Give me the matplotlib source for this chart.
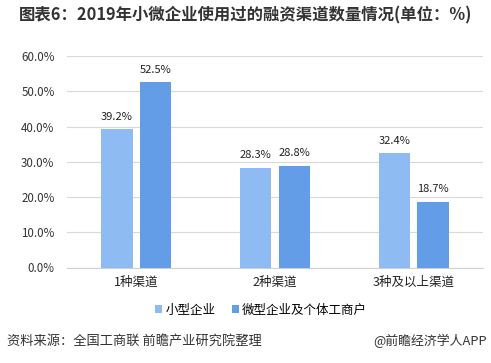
import matplotlib
matplotlib.use("Agg")
import matplotlib.pyplot as plt
import numpy as np

plt.rcParams['font.family'] = ['Noto Sans CJK SC', 'DejaVu Sans']

categories = ['1种渠道', '2种渠道', '3种及以上渠道']
series_names = ['小型企业', '微型企业及个体工商户']
small = [39.2, 28.3, 32.4]
micro = [52.5, 28.8, 18.7]
yticks = [0, 10, 20, 30, 40, 50, 60]

c1 = '#8FBBF3'
c2 = '#639DE8'

fig = plt.figure(figsize=(4.91, 3.63), dpi=100)
ax = fig.add_axes([67/491, 1-267.5/363, (483-67)/491, (267.5-56)/363])

x = np.arange(len(categories))
w = 0.225
off = 0.14
b1 = ax.bar(x - off, small, w, color=c1, label=series_names[0], zorder=3)
b2 = ax.bar(x + off, micro, w, color=c2, label=series_names[1], zorder=3)
for bars, vals in ((b1, small), (b2, micro)):
    for r, v in zip(bars, vals):
        ax.text(r.get_x() + r.get_width()/2, v + 2.2, f'{v:.1f}%', ha='center', va='bottom',
                fontsize=8, color='#222222')

ax.set_xlim(-0.5, 2.5)
ax.set_ylim(0, 60)
ax.set_yticks(yticks)
ax.set_yticklabels([f'{t:.1f}%' for t in yticks], fontsize=8.3, color='#333333')
ax.set_xticks(x)
ax.set_xticklabels(categories, fontsize=9, color='#222222')
ax.tick_params(axis='both', length=0)
ax.tick_params(axis='y', pad=9)
ax.tick_params(axis='x', pad=6)
ax.grid(axis='y', color='#d9d9d9', linewidth=0.8, zorder=0)
for s in ['top', 'right', 'left']:
    ax.spines[s].set_visible(False)
ax.spines['bottom'].set_color('#d0d0d0')
ax.spines['bottom'].set_linewidth(0.8)

leg = fig.legend(handles=[b1, b2], labels=series_names, loc='center', bbox_to_anchor=(261/491, 1-310/363),
                 ncol=2, frameon=False, fontsize=9, handlelength=0.55, handleheight=0.55,
                 handletextpad=0.3, columnspacing=1.3)

fig.text(246/491, 1-15/363, '图表6：2019年小微企业使用过的融资渠道数量情况(单位：%)', ha='center', va='center',
         fontsize=11.8, fontweight='bold', color='#333333')
fig.text(7/491, 1-341/363, '资料来源：全国工商联 前瞻产业研究院整理', ha='left', va='center',
         fontsize=9.5, color='#333333')
fig.text(487/491, 1-341/363, '@前瞻经济学人APP', ha='right', va='center',
         fontsize=9.3, color='#333333')

fig.savefig('out.png', dpi=100)
